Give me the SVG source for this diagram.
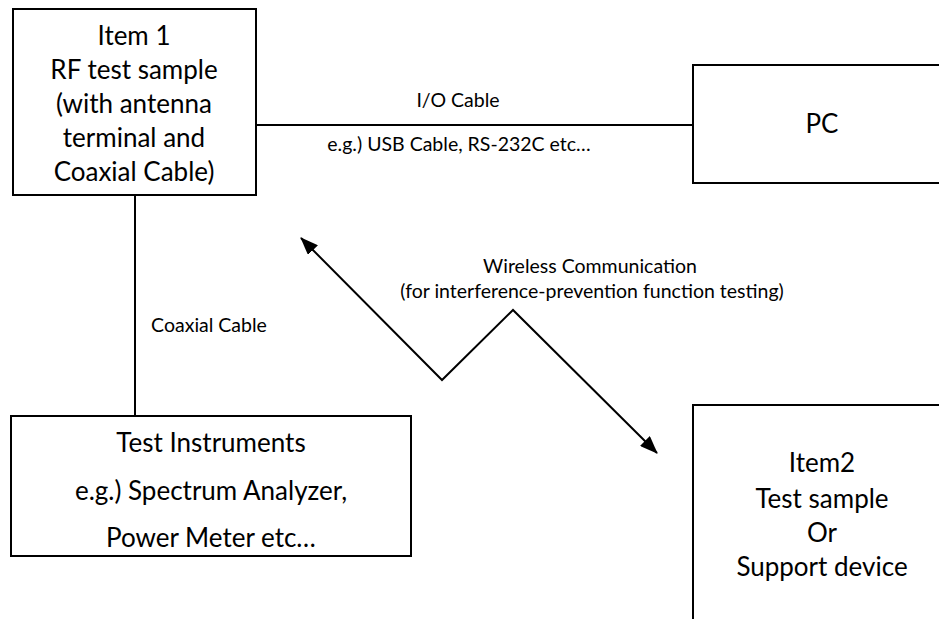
<svg xmlns="http://www.w3.org/2000/svg" width="939" height="619" viewBox="0 0 939 619">
  <style>
    .box { fill: #ffffff; stroke: #000000; stroke-width: 2; }
    .wire { fill: none; stroke: #000000; stroke-width: 2; }
    .big { font-family: Lato, "Liberation Sans", sans-serif; font-size: 26px; fill: #000000; text-anchor: middle; }
    .small { font-family: Lato, "Liberation Sans", sans-serif; font-size: 19.5px; fill: #000000; text-anchor: middle; }
  </style>
  <defs>
    <marker id="arrow" viewBox="0 0 18 14" refX="17" refY="7" markerWidth="18" markerHeight="14" markerUnits="userSpaceOnUse" orient="auto-start-reverse">
      <path d="M0,0 L18,7 L0,14 z" fill="#000000"/>
    </marker>
  </defs>
  <rect width="939" height="619" fill="#ffffff"/>

  <g id="connectors">
    <line class="wire" x1="256" y1="125" x2="693" y2="125"/>
    <line class="wire" x1="135" y1="195" x2="135" y2="416"/>
    <polyline class="wire" points="301,238 442,380 513,310 657,453" marker-start="url(#arrow)" marker-end="url(#arrow)"/>
    <text class="small" x="458" y="107">I/O Cable</text>
    <text class="small" x="459" y="151">e.g.) USB Cable, RS-232C etc…</text>
    <text class="small" x="209" y="332">Coaxial Cable</text>
    <text class="small" x="590" y="273">Wireless Communication</text>
    <text class="small" x="592" y="298">(for interference-prevention function testing)</text>
  </g>

  <g id="item1">
    <rect class="box" x="13" y="9" width="243" height="186"/>
    <text class="big" x="134" y="45">Item 1</text>
    <text class="big" x="134" y="79">RF test sample</text>
    <text class="big" x="134" y="113">(with antenna</text>
    <text class="big" x="134" y="147">terminal and</text>
    <text class="big" x="134" y="181">Coaxial Cable)</text>
  </g>

  <g id="pc">
    <rect class="box" x="693" y="65" width="260" height="118"/>
    <text class="big" x="822" y="133">PC</text>
  </g>

  <g id="test-instruments">
    <rect class="box" x="11" y="416" width="400" height="140"/>
    <text class="big" x="211" y="452">Test Instruments</text>
    <text class="big" x="211" y="500">e.g.) Spectrum Analyzer,</text>
    <text class="big" x="211" y="547">Power Meter etc…</text>
  </g>

  <g id="item2">
    <rect class="box" x="693" y="405" width="260" height="230"/>
    <text class="big" x="822" y="472">Item2</text>
    <text class="big" x="822" y="508">Test sample</text>
    <text class="big" x="822" y="542">Or</text>
    <text class="big" x="822" y="576">Support device</text>
  </g>
</svg>
